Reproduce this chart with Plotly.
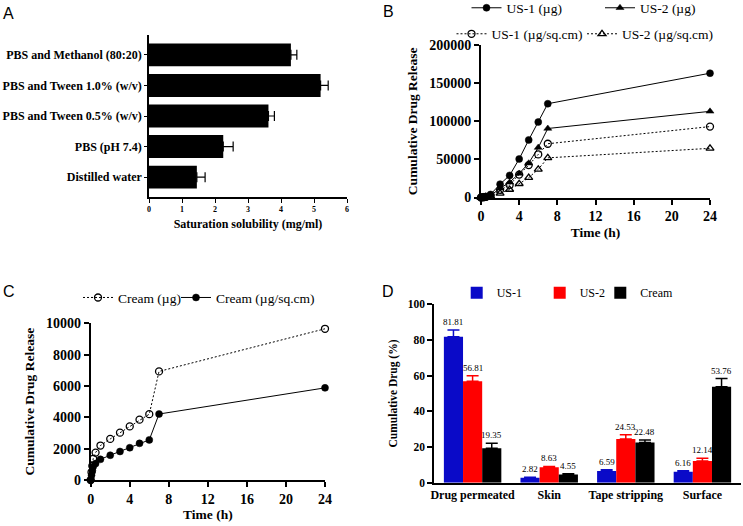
import plotly.graph_objects as go

SERIF = "Liberation Serif"
SANS = "Liberation Sans"
W, H = 743, 526

# ---------------- Data ----------------
# Panel A
a_categories = ["PBS and Methanol (80:20)", "PBS and Tween 1.0% (w/v)",
                "PBS and Tween 0.5% (w/v)", "PBS (pH 7.4)", "Distilled water"]
a_values = [4.3, 5.2, 3.62, 2.25, 1.45]
a_errors = [0.18, 0.23, 0.18, 0.3, 0.25]

# Panel B
b_time = [0, 0.25, 0.5, 1, 2, 3, 4, 5, 6, 7, 24]
b_us1_ug = [0, 500, 1200, 4000, 17500, 29000, 50500, 75500, 99000, 123000, 163000]
b_us2_ug = [0, 300, 800, 2500, 12000, 20000, 31500, 45000, 65500, 90500, 113000]
b_us1_sqcm = [0, 300, 700, 2500, 10000, 16500, 30000, 42500, 56500, 70500, 93000]
b_us2_sqcm = [0, 200, 500, 1500, 5500, 10500, 18000, 26000, 37000, 52000, 64500]

# Panel C
c_time = [0, 0.083, 0.167, 0.25, 0.5, 1, 2, 3, 4, 5, 6, 7, 24]
c_cream_ug = [0, 500, 900, 1350, 1750, 2200, 2620, 3020, 3420, 3850, 4200, 6930, 9650]
c_cream_sqcm = [0, 300, 600, 850, 1050, 1320, 1580, 1820, 2060, 2340, 2560, 4210, 5880]

# Panel D
d_categories = ["Drug permeated", "Skin", "Tape stripping", "Surface"]
d_us1 = [81.81, 2.82, 6.59, 6.16]
d_us1_err = [3.8, 0.3, 0.7, 0.6]
d_us2 = [56.81, 8.63, 24.53, 12.14]
d_us2_err = [3.2, 0.5, 2.4, 1.5]
d_cream = [19.35, 4.55, 22.48, 53.76]
d_cream_err = [2.7, 0.4, 1.4, 4.6]

# ---------------- helpers ----------------
def px_x(a, b):
    return [a / W, b / W]

def px_y(top, bottom):
    return [(H - bottom) / H, (H - top) / H]

def tf(size, bold=True):
    return dict(family=SERIF, size=size, color="black", weight="bold" if bold else "normal")

DOT = "2px,2px"

fig = go.Figure()

# ---- Panel A ----
fig.add_trace(go.Bar(
    x=a_values, y=a_categories, orientation="h", marker=dict(color="black", line=dict(width=0)),
    error_x=dict(type="data", array=a_errors, arrayminus=[0] * len(a_errors), symmetric=False,
                 color="black", thickness=1.2, width=5),
    xaxis="x", yaxis="y", showlegend=False))

# ---- Panel B ----
b_series = [
    ("US-1 (µg)", b_us1_ug, "circle", "solid", "legend", 466.5, 8),
    ("US-2 (µg)", b_us2_ug, "triangle-up", "solid", "legend2", 600, 8),
    ("US-1 (µg/sq.cm)", b_us1_sqcm, "circle-open", DOT, "legend3", 451.5, 34),
    ("US-2 (µg/sq.cm)", b_us2_sqcm, "triangle-up-open", DOT, "legend4", 582, 34),
]
for name, vals, sym, dash, leg, lx, ly in b_series:
    fig.add_trace(go.Scatter(
        x=b_time, y=vals, name=name, mode="lines+markers",
        line=dict(color="black", width=1, dash=dash),
        marker=dict(symbol=sym, size=7, color="black",
                    line=dict(color="black", width=1.3 if "open" in sym else 0.5)),
        cliponaxis=False, xaxis="x2", yaxis="y2", legend=leg))

# ---- Panel C ----
c_series = [
    ("Cream (µg)", c_cream_ug, "circle-open", DOT, "legend5", 78, 297.7),
    ("Cream (µg/sq.cm)", c_cream_sqcm, "circle", "solid", "legend6", 176, 297.7),
]
for name, vals, sym, dash, leg, lx, ly in c_series:
    fig.add_trace(go.Scatter(
        x=c_time, y=vals, name=name, mode="lines+markers",
        line=dict(color="black", width=1, dash=dash),
        marker=dict(symbol=sym, size=7, color="black",
                    line=dict(color="black", width=1.3 if "open" in sym else 0.5)),
        cliponaxis=False, xaxis="x3", yaxis="y3", legend=leg))

# ---- Panel D ----
d_series = [
    ("US-1", d_us1, d_us1_err, "#0a0ac8", "legend7", 456.7, 292.7),
    ("US-2", d_us2, d_us2_err, "#ff0000", "legend8", 539.7, 292.7),
    ("Cream", d_cream, d_cream_err, "#000000", "legend9", 600.3, 292.7),
]
for name, vals, errs, col, leg, lx, ly in d_series:
    fig.add_trace(go.Bar(
        x=d_categories, y=vals, name=name, marker=dict(color=col, line=dict(width=0)),
        error_y=dict(type="data", array=errs, arrayminus=[0] * len(errs), symmetric=False,
                     color=col, thickness=1.5, width=6),
        xaxis="x4", yaxis="y4", legend=leg))

# D value labels above the error bars
D_X0, D_X1 = 434.3, 740.7
d_bar_px = (D_X1 - D_X0) / len(d_categories) * 0.75 / 3
annotations = []
for i, (name, vals, errs, col, leg, lx, ly) in enumerate(d_series):
    for cat, v, e in zip(d_categories, vals, errs):
        annotations.append(dict(
            x=cat, y=v + e, xref="x4", yref="y4", text=f"{v:.2f}", showarrow=False,
            xshift=(i - 1) * d_bar_px, yshift=1, yanchor="bottom",
            font=dict(family=SERIF, size=9, color="black")))

# panel letters
for letter, cx, cy in [("A", 8.7, 13), ("B", 388.3, 11), ("C", 8.7, 291), ("D", 388.3, 291)]:
    annotations.append(dict(x=cx / W, y=1 - cy / H, xref="paper", yref="paper", text=letter,
                            showarrow=False, xanchor="center", yanchor="middle",
                            font=dict(family=SANS, size=16, color="black")))

axis_common = dict(showline=True, linecolor="black", ticks="outside", tickcolor="black",
                   showgrid=False, zeroline=False, mirror=False)

layout = dict(
    width=W, height=H, margin=dict(l=0, r=0, t=0, b=0, autoexpand=False),
    paper_bgcolor="white", plot_bgcolor="white",
    font=dict(family=SERIF, color="black"),
    bargap=0.25, barmode="group", annotations=annotations,
    # A
    xaxis=dict(domain=px_x(149, 347), anchor="y", range=[0, 6], dtick=1, tick0=0,
               linewidth=1.5, ticklen=4, tickwidth=1.2, tickfont=tf(8),
               title=dict(text="Saturation solubility (mg/ml)", font=tf(12), standoff=6),
               **axis_common),
    yaxis=dict(domain=px_y(35, 197), anchor="x", type="category", range=[4.65, -0.65],
               autorange=False, linewidth=1.5, ticklen=3, tickwidth=1.2, tickfont=tf(12),
               **axis_common),
    # B
    xaxis2=dict(domain=px_x(481, 710), anchor="y2", range=[0, 24], tickvals=[0, 4, 8, 12, 16, 20, 24],
                linewidth=2, ticklen=5, tickwidth=1.5, tickfont=tf(14),
                title=dict(text="Time (h)", font=tf(13.5), standoff=4), **axis_common),
    yaxis2=dict(domain=px_y(45, 197.5), anchor="x2", range=[0, 200000],
                tickvals=[0, 50000, 100000, 150000, 200000], tickformat="d",
                linewidth=2, ticklen=5, tickwidth=1.5, tickfont=tf(14),
                title=dict(text="Cumulative Drug Release", font=tf(13.5), standoff=8), **axis_common),
    # C
    xaxis3=dict(domain=px_x(90.7, 325), anchor="y3", range=[0, 24], tickvals=[0, 4, 8, 12, 16, 20, 24],
                linewidth=2, ticklen=5, tickwidth=1.5, tickfont=tf(14),
                title=dict(text="Time (h)", font=tf(13.5), standoff=4), **axis_common),
    yaxis3=dict(domain=px_y(323.3, 480), anchor="x3", range=[0, 10000],
                tickvals=[0, 2000, 4000, 6000, 8000, 10000], tickformat="d",
                linewidth=2, ticklen=5, tickwidth=1.5, tickfont=tf(14),
                title=dict(text="Cumulative Drug Release", font=tf(13.5), standoff=8), **axis_common),
    # D
    xaxis4=dict(domain=px_x(D_X0, D_X1), anchor="y4", type="category", range=[-0.5, 3.5],
                linewidth=2, ticklen=0, tickwidth=1.5, tickfont=tf(12), **axis_common),
    yaxis4=dict(domain=px_y(304.3, 482.7), anchor="x4", range=[0, 100], dtick=20,
                linewidth=2, ticklen=5, tickwidth=1.5, tickfont=tf(11.5),
                title=dict(text="Cumulative Drug (%)", font=tf(11.5), standoff=8), **axis_common),
)

for name, vals, sym, dash, leg, lx, ly in b_series + c_series:
    layout[leg] = dict(x=lx / W, y=1 - ly / H, xanchor="left", yanchor="middle",
                       orientation="h", bgcolor="rgba(0,0,0,0)", borderwidth=0,
                       font=dict(family=SERIF, size=13.5, color="black"), itemwidth=30)
for name, vals, errs, col, leg, lx, ly in d_series:
    layout[leg] = dict(x=lx / W, y=1 - ly / H, xanchor="left", yanchor="middle",
                       orientation="h", bgcolor="rgba(0,0,0,0)", borderwidth=0,
                       font=dict(family=SERIF, size=12, color="black"), itemwidth=30)

fig.update_layout(**layout)
# no mode bar, and no browser default page margin so the figure fills the window exactly
fig.write_html("out.html", config={"displayModeBar": False},
               post_script="document.body.style.margin='0';document.body.style.overflow='hidden';")
